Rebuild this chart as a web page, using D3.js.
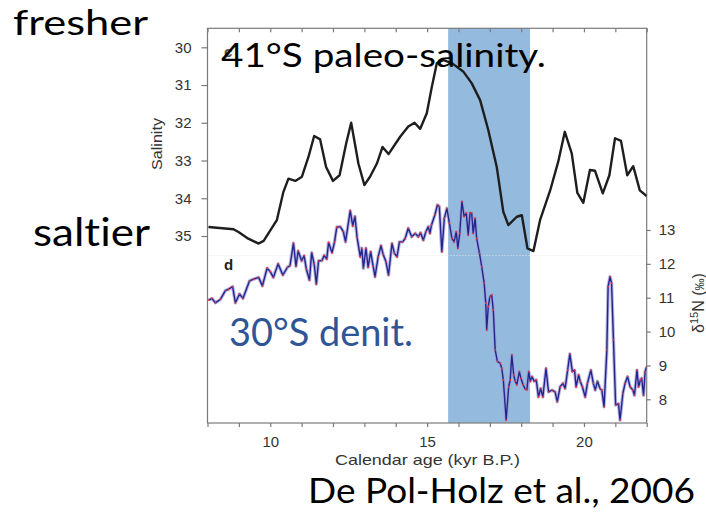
<!DOCTYPE html>
<html>
<head>
<meta charset="utf-8">
<script src="https://cdn.jsdelivr.net/npm/d3@7"></script>
<style>
  html, body { margin: 0; padding: 0; background: #fff; }
  svg { display: block; }
  text { font-variant-ligatures: none; }
</style>
</head>
<body>
<svg id="chart" width="706" height="514"></svg>
<script>
// ---------------- DATA ----------------
// Salinity record (41°S), age in kyr B.P.
const salAge = [8.03, 8.83, 9.0, 9.3, 9.63, 9.79, 10.21, 10.42, 10.58, 10.80, 11.01, 11.22, 11.40, 11.59, 11.78, 12.0, 12.21, 12.42, 12.58, 12.81, 13.0, 13.18, 13.40, 13.58, 13.77, 14.14, 14.40, 14.6, 14.78, 14.99, 15.15, 15.31, 15.52, 15.79, 16.16, 16.42, 16.69, 16.95, 17.22, 17.43, 17.59, 17.86, 18.02, 18.2, 18.39, 18.6, 18.92, 19.18, 19.39, 19.61, 19.79, 19.98, 20.19, 20.35, 20.6, 20.81, 20.99, 21.18, 21.38, 21.57, 21.78, 22.0];
const salVal = [34.76, 34.82, 34.9, 35.07, 35.2, 35.13, 34.58, 33.83, 33.48, 33.54, 33.43, 32.9, 32.35, 32.44, 33.17, 33.54, 33.39, 32.55, 32.0, 33.08, 33.65, 33.43, 33.08, 32.64, 32.83, 32.37, 32.1, 32.0, 32.16, 31.75, 31.05, 30.42, 30.34, 30.42, 30.65, 30.95, 31.40, 32.19, 33.17, 34.36, 34.71, 34.49, 34.45, 35.33, 35.40, 34.58, 33.8, 33.03, 32.24, 32.81, 33.86, 34.12, 33.25, 33.27, 33.87, 33.39, 32.41, 32.48, 33.39, 33.15, 33.79, 33.94];

// δ15N record (30°S)
const dAge = [8.04, 8.14, 8.25, 8.41, 8.57, 8.67, 8.80, 8.89, 9.02, 9.13, 9.34, 9.47, 9.63, 9.75, 9.9, 10.0, 10.1, 10.25, 10.40, 10.55, 10.63, 10.74, 10.82, 10.89, 11.0, 11.08, 11.15, 11.25, 11.32, 11.4, 11.47, 11.54, 11.65, 11.72, 11.8, 11.86, 11.97, 12.05, 12.12, 12.23, 12.33, 12.4, 12.55, 12.63, 12.70, 12.77, 12.87, 12.92, 12.97, 13.05, 13.12, 13.2, 13.28, 13.34, 13.44, 13.53, 13.6, 13.69, 13.77, 13.88, 13.96, 14.04, 14.12, 14.22, 14.3, 14.40, 14.51, 14.62, 14.72, 14.79, 14.88, 14.96, 15.04, 15.09, 15.14, 15.25, 15.33, 15.39, 15.47, 15.55, 15.63, 15.71, 15.79, 15.86, 15.93, 15.98, 16.04, 16.11, 16.18, 16.25, 16.31, 16.37, 16.42, 16.47, 16.53, 16.58, 16.67, 16.74, 16.82, 16.87, 16.90, 16.95, 17.0, 17.06, 17.11, 17.17, 17.24, 17.33, 17.38, 17.43, 17.52, 17.60, 17.65, 17.70, 17.76, 17.81, 17.86, 17.94, 17.99, 18.06, 18.13, 18.18, 18.24, 18.29, 18.34, 18.42, 18.48, 18.55, 18.62, 18.69, 18.79, 18.87, 18.98, 19.08, 19.15, 19.24, 19.33, 19.40, 19.48, 19.55, 19.63, 19.70, 19.75, 19.83, 19.88, 19.95, 20.04, 20.11, 20.22, 20.3, 20.36, 20.43, 20.51, 20.57, 20.64, 20.73, 20.77, 20.83, 20.88, 20.94, 21.01, 21.10, 21.15, 21.24, 21.31, 21.39, 21.47, 21.56, 21.61, 21.69, 21.74, 21.8, 21.84, 21.90, 21.95, 22.0];
const dVal = [10.93, 10.98, 10.85, 10.95, 11.21, 11.25, 11.33, 10.85, 11.11, 10.98, 11.5, 11.55, 11.6, 11.35, 11.87, 11.77, 11.6, 12.0, 11.67, 11.9, 11.95, 12.61, 11.93, 12.38, 12.09, 12.24, 11.85, 11.52, 12.33, 12.0, 11.4, 12.09, 12.1, 12.25, 12.14, 12.63, 12.33, 12.65, 13.08, 13.1, 12.95, 12.65, 13.57, 13.12, 13.4, 12.77, 12.21, 12.46, 11.87, 12.46, 11.9, 12.36, 11.93, 11.62, 12.21, 12.54, 12.28, 12.06, 11.67, 12.6, 12.31, 12.21, 12.65, 12.65, 12.75, 13.05, 12.8, 12.9, 12.8, 12.92, 12.7, 12.95, 13.1, 12.9, 13.15, 13.45, 13.74, 13.69, 12.36, 13.35, 13.64, 13.2, 12.75, 12.65, 12.95, 12.46, 12.9, 13.84, 13.4, 13.5, 12.85, 13.51, 13.5, 12.9, 13.35, 12.75, 12.31, 11.92, 11.43, 10.84, 10.05, 10.74, 11.03, 11.08, 10.64, 9.46, 9.12, 9.06, 8.91, 8.57, 7.39, 8.37, 8.57, 9.31, 8.72, 8.53, 8.43, 8.82, 8.62, 8.43, 8.30, 8.28, 8.82, 8.53, 8.67, 8.53, 8.57, 8.07, 8.32, 8.07, 8.91, 8.22, 8.27, 8.22, 7.93, 8.37, 8.47, 8.32, 8.86, 9.34, 8.82, 8.86, 8.37, 8.72, 8.53, 8.37, 8.07, 8.47, 8.86, 8.47, 8.27, 8.53, 8.32, 8.27, 7.78, 9.46, 11.33, 11.62, 11.43, 9.76, 7.83, 7.87, 7.39, 8.17, 8.47, 8.67, 8.37, 8.27, 8.12, 8.86, 8.37, 8.57, 8.62, 8.12, 8.82, 8.96];

// Highlighted interval (kyr B.P.)
const bandRange = [15.67, 18.28];

// Axis ticks
const ageTicks = [8, 9, 10, 11, 12, 13, 14, 15, 16, 17, 18, 19, 20, 21, 22];
const ageLabels = [10, 15, 20];
const salTicks = [30, 31, 32, 33, 34, 35];
const d15Ticks = [8, 9, 10, 11, 12, 13];

// ---------------- LAYOUT ----------------
const svg = d3.select("#chart");
const L = 207.5, R = 646.7, T = 28.3, B = 423;

const x = d3.scaleLinear().domain([8, 22]).range([L, R]);
const ySal = d3.scaleLinear().domain([30, 35]).range([47.3, 236]);
const yD = d3.scaleLinear().domain([8, 13]).range([399.3, 230]);

const axisColor = "#7a7a7a";
const labelColor = "#333";
const tickFont = "'Liberation Sans', Arial, Helvetica, sans-serif";
const bigFont = "Lato, 'Open Sans', sans-serif";
const intFmt = d3.format("d");

svg.append("defs").append("clipPath").attr("id", "plotclip")
  .append("rect").attr("x", L).attr("y", T).attr("width", R - L).attr("height", B - T);

// band
svg.append("rect")
  .attr("x", x(bandRange[0])).attr("y", T)
  .attr("width", x(bandRange[1]) - x(bandRange[0]))
  .attr("height", B - T)
  .attr("fill", "#94bbdd");

// faint separator between panels
svg.append("line")
  .attr("x1", L).attr("x2", R).attr("y1", 255.5).attr("y2", 255.5)
  .attr("stroke", "#e4e4e4").attr("stroke-width", 1).attr("stroke-dasharray", "1,2");

// frame
svg.append("rect")
  .attr("x", L).attr("y", T).attr("width", R - L).attr("height", B - T)
  .attr("fill", "none").attr("stroke", axisColor).attr("stroke-width", 1.2);

// bottom axis
const gB = svg.append("g").attr("transform", `translate(0,${B})`)
  .call(d3.axisBottom(x).tickValues(ageTicks).tickSize(4).tickPadding(9)
    .tickFormat(d => ageLabels.includes(d) ? intFmt(d) : ""));
// top axis (inward ticks)
const gT = svg.append("g").attr("transform", `translate(0,${T})`)
  .call(d3.axisTop(x).tickValues(ageTicks).tickSize(-4).tickFormat(""));
// left salinity axis
const gL = svg.append("g").attr("transform", `translate(${L},0)`)
  .call(d3.axisLeft(ySal).tickValues(salTicks).tickSize(6).tickPadding(10).tickFormat(intFmt));
// right δ15N axis
const gR = svg.append("g").attr("transform", `translate(${R},0)`)
  .call(d3.axisRight(yD).tickValues(d15Ticks).tickSize(4).tickPadding(8).tickFormat(intFmt));

[gB, gT, gL, gR].forEach(g => {
  g.select(".domain").remove();
  g.selectAll(".tick line").attr("stroke", axisColor).attr("stroke-width", 1.2);
  g.selectAll(".tick text").attr("fill", labelColor)
    .style("font-family", tickFont).style("font-size", "15px");
});

// axis titles
svg.append("text")
  .attr("x", 427.5).attr("y", 465)
  .attr("text-anchor", "middle")
  .attr("textLength", 185).attr("lengthAdjust", "spacingAndGlyphs")
  .style("font-family", tickFont).style("font-size", "15px").attr("fill", labelColor)
  .text("Calendar age (kyr B.P.)");

svg.append("text")
  .attr("transform", "translate(162,144) rotate(-90)")
  .attr("text-anchor", "middle")
  .attr("textLength", 52).attr("lengthAdjust", "spacingAndGlyphs")
  .style("font-family", tickFont).style("font-size", "14px").attr("fill", labelColor)
  .text("Salinity");

const dl = svg.append("text")
  .attr("transform", "translate(704,303) rotate(-90)")
  .attr("text-anchor", "middle")
  .style("font-family", tickFont).style("font-size", "16px").attr("fill", labelColor);
dl.append("tspan").text("δ");
dl.append("tspan").attr("dy", -6).style("font-size", "11px").text("15");
dl.append("tspan").attr("dy", 6).text("N   (");
dl.append("tspan").style("font-size", "12px").text("‰");
dl.append("tspan").text(")");

// panel letters
svg.append("text").attr("x", 224).attr("y", 57)
  .style("font-family", tickFont).style("font-size", "15px").style("font-weight", "bold")
  .attr("fill", "#555").text("c");
svg.append("text").attr("x", 224).attr("y", 270)
  .style("font-family", tickFont).style("font-size", "15px").style("font-weight", "bold")
  .attr("fill", "#222").text("d");

// ---------------- SERIES ----------------
const plot = svg.append("g").attr("clip-path", "url(#plotclip)");

const salData = salAge.map((a, i) => [a, salVal[i]]);
const dData = dAge.map((a, i) => [a, dVal[i]]);

plot.append("path")
  .datum(salData)
  .attr("fill", "none").attr("stroke", "#1e1e1e").attr("stroke-width", 2.4)
  .attr("stroke-linejoin", "round")
  .attr("d", d3.line().x(d => x(d[0])).y(d => ySal(d[1])));

const dLine = d3.line().x(d => x(d[0])).y(d => yD(d[1]));
plot.append("path").datum(dData)
  .attr("fill", "none").attr("stroke", "#9c9cd6").attr("stroke-width", 3.4)
  .attr("stroke-opacity", 0.75).attr("stroke-linejoin", "round")
  .attr("d", dLine);
plot.append("path").datum(dData)
  .attr("fill", "none").attr("stroke", "#24248c").attr("stroke-width", 1.4)
  .attr("stroke-linejoin", "round")
  .attr("d", dLine);
plot.selectAll("circle.pt").data(dData).enter().append("circle")
  .attr("class", "pt")
  .attr("cx", d => x(d[0])).attr("cy", d => yD(d[1]))
  .attr("r", 0.9).attr("fill", "#e8353a");

// ---------------- ANNOTATIONS ----------------
function big(txt, xx, yy, size, len, color) {
  svg.append("text").attr("x", xx).attr("y", yy)
    .attr("textLength", len).attr("lengthAdjust", "spacingAndGlyphs")
    .style("font-family", bigFont).style("font-size", size + "px")
    .attr("fill", color).text(txt);
}
big("fresher", 13, 34.5, 34, 135, "#000");
big("saltier", 33, 245.5, 38, 117, "#000");
big("41°S paleo-salinity.", 221, 67, 33, 325, "#000");
big("30°S denit.", 229, 346, 38, 184, "#2f5597");
big("De Pol-Holz et al., 2006", 308, 503, 34, 387, "#000");
</script>
</body>
</html>
